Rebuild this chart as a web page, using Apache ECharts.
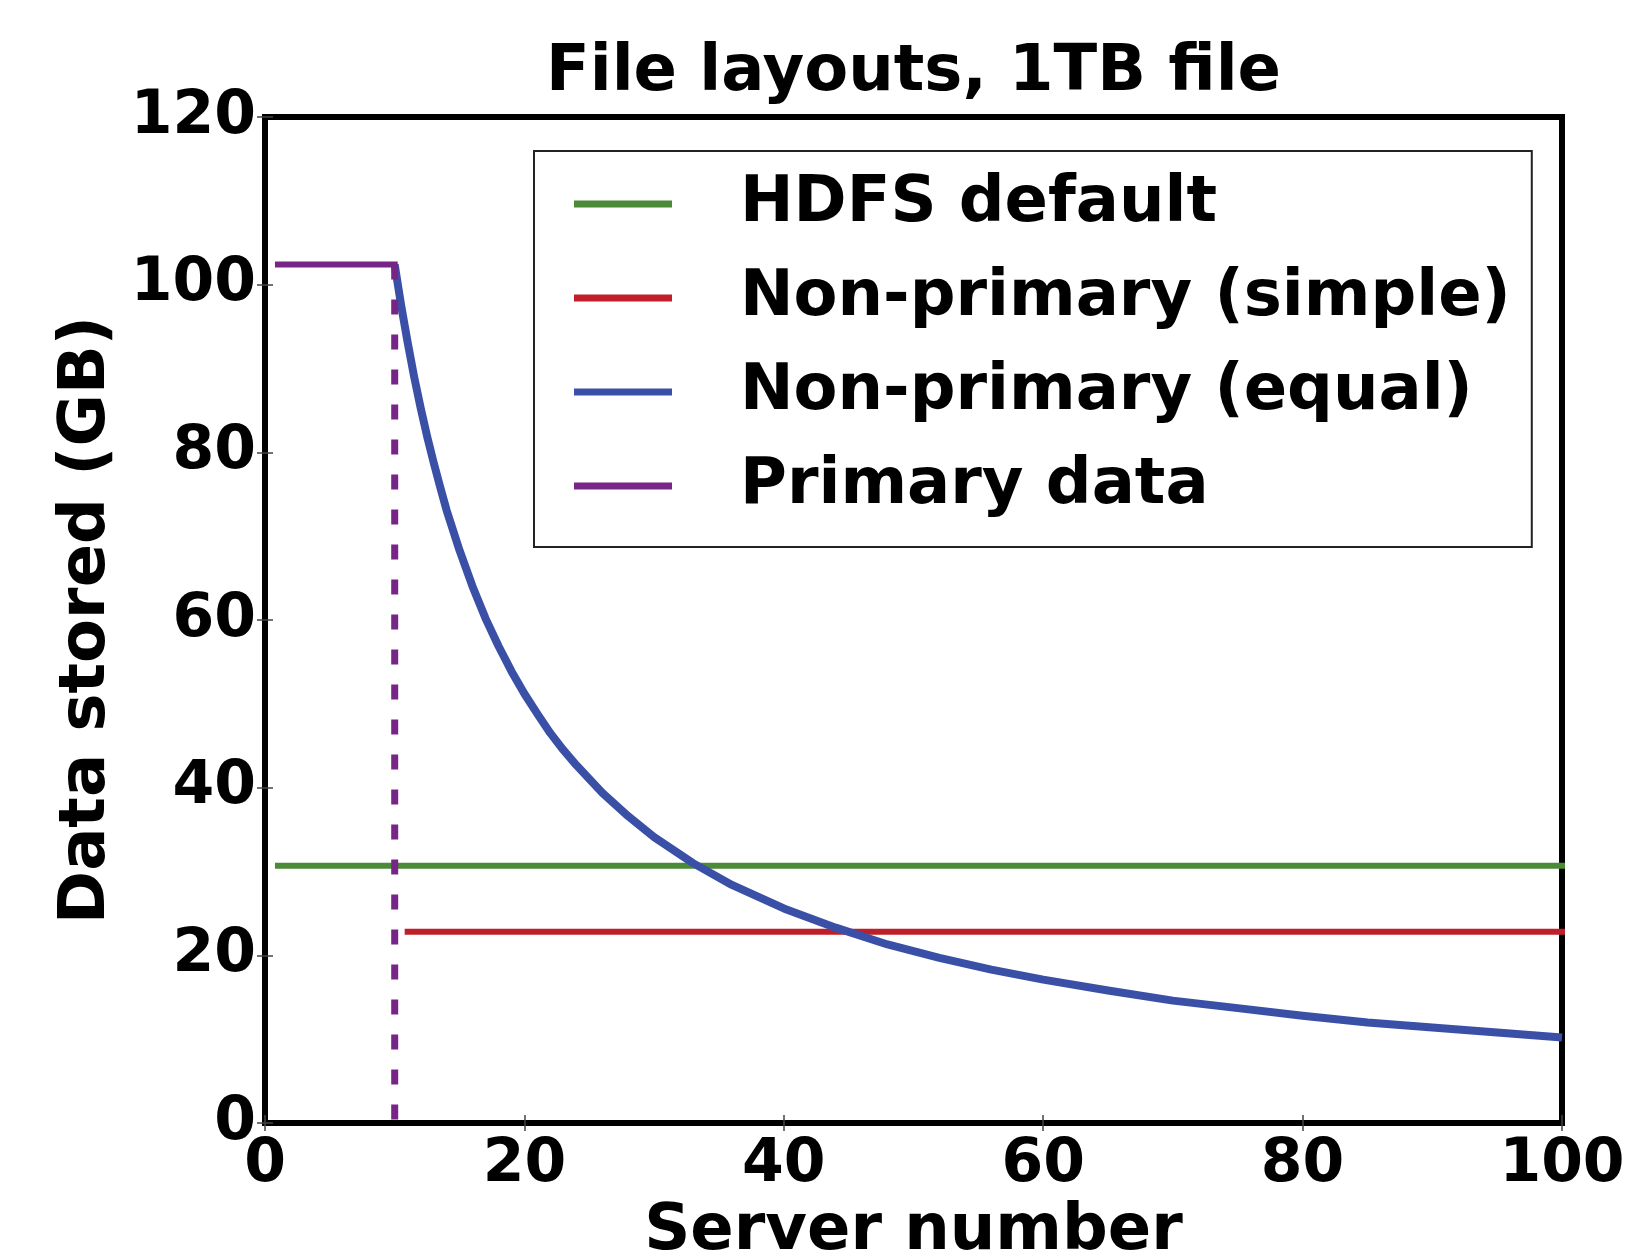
<!DOCTYPE html>
<html>
<head>
<meta charset="utf-8">
<title>File layouts, 1TB file</title>
<script src="https://cdn.jsdelivr.net/npm/echarts@6/dist/echarts.min.js"></script>
<style>
  html, body { margin: 0; padding: 0; background: #fff; }
  #main { width: 1639px; height: 1253px; }
</style>
</head>
<body>
<div id="main"></div>
<script>
// values
var hdfsX = [1, 100];
var hdfsY = [30.7, 30.7];
var simpleX = [11, 100];
var simpleY = [22.8, 22.8];
var equalX = [10, 10.5, 11, 11.5, 12, 12.5, 13, 13.5, 14, 15, 16, 17, 18, 19, 20, 21, 22, 23, 24, 26, 28, 30, 33, 36, 40, 44, 48, 52, 56, 60, 65, 70, 75, 80, 85, 90, 95, 100];
var equalY = [102.4, 97.5, 93.1, 89.0, 85.3, 81.9, 78.8, 75.9, 73.1, 68.3, 64.0, 60.2, 56.9, 53.9, 51.2, 48.8, 46.5, 44.5, 42.7, 39.4, 36.6, 34.1, 31.0, 28.4, 25.6, 23.3, 21.3, 19.7, 18.3, 17.1, 15.8, 14.6, 13.7, 12.8, 12.0, 11.4, 10.8, 10.2];
var primaryX = [1, 10];
var primaryY = [102.4, 102.4];
var cutX = [10, 10];
var cutY = [102.4, 0];
var xTicks = [0, 20, 40, 60, 80, 100];
var yTicks = [0, 20, 40, 60, 80, 100, 120];
var names = ['HDFS default', 'Non-primary (simple)', 'Non-primary (equal)', 'Primary data'];

function pairs(xs, ys) {
    return xs.map(function (x, i) { return [x, ys[i]]; });
}

var font = 'DejaVu Sans';
var tick = { show: true, inside: true, length: 8, lineStyle: { color: '#444', width: 1.5 } };

var myChart = echarts.init(document.getElementById('main'));
option = {
    animation: false,
    backgroundColor: '#fff',
    title: {
        text: 'File layouts, 1TB file',
        left: 546,
        top: 41,
        padding: 0,
        textStyle: { fontFamily: font, fontWeight: 'bold', fontSize: 64, color: '#000' }
    },
    legend: {
        data: names,
        orient: 'vertical',
        left: 534,
        top: 151,
        padding: [18, 21, 26, 40],
        itemGap: 24,
        itemWidth: 98,
        itemHeight: 7,
        icon: 'rect',
        borderColor: '#222',
        borderWidth: 2,
        backgroundColor: '#fff',
        textStyle: {
            fontFamily: font, fontWeight: 'bold', fontSize: 64, color: '#000',
            lineHeight: 70, padding: [0, 0, 0, 63]
        }
    },
    grid: {
        left: 265, top: 117, width: 1297, height: 1006,
        show: true, borderColor: '#000', borderWidth: 6,
        outerBoundsMode: 'none'
    },
    xAxis: [{
        type: 'value', min: xTicks[0], max: xTicks[xTicks.length - 1], interval: 20,
        name: 'Server number', nameLocation: 'middle', nameGap: 72,
        nameTextStyle: { fontFamily: font, fontWeight: 'bold', fontSize: 64, color: '#000' },
        axisLine: { show: false },
        axisTick: tick,
        splitLine: { show: false },
        axisLabel: { margin: 12, fontFamily: font, fontWeight: 'bold', fontSize: 60, color: '#000' }
    }, {
        type: 'value', position: 'top', min: 0, max: 100, interval: 20,
        axisLine: { show: false }, axisTick: tick, splitLine: { show: false },
        axisLabel: { show: false }
    }],
    yAxis: [{
        type: 'value', min: yTicks[0], max: yTicks[yTicks.length - 1], interval: 20,
        name: 'Data stored (GB)', nameLocation: 'middle', nameGap: 146, nameRotate: 90,
        nameTextStyle: { fontFamily: font, fontWeight: 'bold', fontSize: 64, color: '#000' },
        axisLine: { show: false },
        axisTick: tick,
        splitLine: { show: false },
        axisLabel: { margin: 9, fontFamily: font, fontWeight: 'bold', fontSize: 60, color: '#000' }
    }, {
        type: 'value', position: 'right', min: 0, max: 120, interval: 20,
        axisLine: { show: false }, axisTick: tick, splitLine: { show: false },
        axisLabel: { show: false }
    }],
    series: [{
        name: names[0],
        type: 'line',
        symbol: 'none',
        color: '#4b8b37',
        lineStyle: { width: 6, cap: 'square' },
        data: pairs(hdfsX, hdfsY)
    }, {
        name: names[1],
        type: 'line',
        symbol: 'none',
        color: '#bf1f28',
        lineStyle: { width: 6, cap: 'square' },
        data: pairs(simpleX, simpleY)
    }, {
        name: names[2],
        type: 'line',
        symbol: 'none',
        color: '#3a50a7',
        lineStyle: { width: 8, join: 'round' },
        data: pairs(equalX, equalY)
    }, {
        name: names[3],
        type: 'line',
        symbol: 'none',
        color: '#772586',
        lineStyle: { width: 6, cap: 'square' },
        data: pairs(primaryX, primaryY)
    }, {
        name: names[3],
        type: 'line',
        symbol: 'none',
        color: '#772586',
        lineStyle: { width: 7, type: [15, 20] },
        data: pairs(cutX, cutY)
    }]
};
myChart.setOption(option);
</script>
</body>
</html>
